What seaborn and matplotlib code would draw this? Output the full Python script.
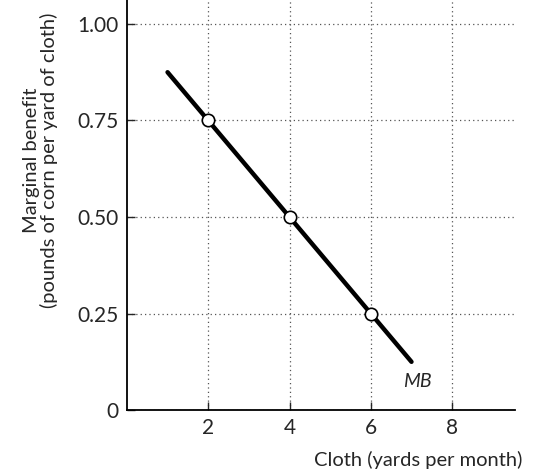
import numpy as np
import pandas as pd
import matplotlib
matplotlib.use("Agg")
import matplotlib.pyplot as plt
import seaborn as sns

# =========================
# Data
# =========================
line_x = [1, 7]
line_y = [0.875, 0.125]
point_x = [2, 4, 6]
point_y = [0.75, 0.50, 0.25]
x_ticks = [2, 4, 6, 8]
y_ticks = [0, 0.25, 0.50, 0.75, 1.00]
y_tick_labels = ["0", "0.25", "0.50", "0.75", "1.00"]

# =========================
# Plot
# =========================
sns.set_style("ticks")
plt.rcParams['font.family'] = ['Lato', 'DejaVu Sans']

fig = plt.figure(figsize=(5.4, 4.73), dpi=100)
ax = fig.add_axes([0.235, 0.133, 0.719, 0.867])

sns.lineplot(x=line_x, y=line_y, ax=ax, color="black", linewidth=3.2, zorder=3)
sns.scatterplot(x=point_x, y=point_y, ax=ax, s=80, color="white",
                edgecolor="black", linewidth=1.2, zorder=4)

ax.set_xlim(0, 9.55)
ax.set_ylim(0, 1.062)
ax.set_xticks(x_ticks)
ax.set_yticks(y_ticks)
ax.set_yticklabels(y_tick_labels)

ax.grid(True, linestyle=(0, (1, 2.5)), color="#555555", linewidth=0.9)
ax.set_axisbelow(True)

sns.despine(ax=ax)
for s in ["left", "bottom"]:
    ax.spines[s].set_linewidth(1.3)
    ax.spines[s].set_color("black")
ax.tick_params(direction="in", length=6, width=1.0, labelsize=15, pad=6)

ax.text(7.15, 0.075, "MB", fontsize=14, style="italic", ha="center", va="center")

ax.set_ylabel("Marginal benefit\n(pounds of corn per yard of cloth)",
              fontsize=14.5, linespacing=1.0)
ax.yaxis.set_label_coords(-0.178, 0.61)
ax.set_xlabel("Cloth (yards per month)", fontsize=14.5, ha="right")
ax.xaxis.set_label_coords(1.018, -0.1)

fig.savefig("out.png", dpi=100)
